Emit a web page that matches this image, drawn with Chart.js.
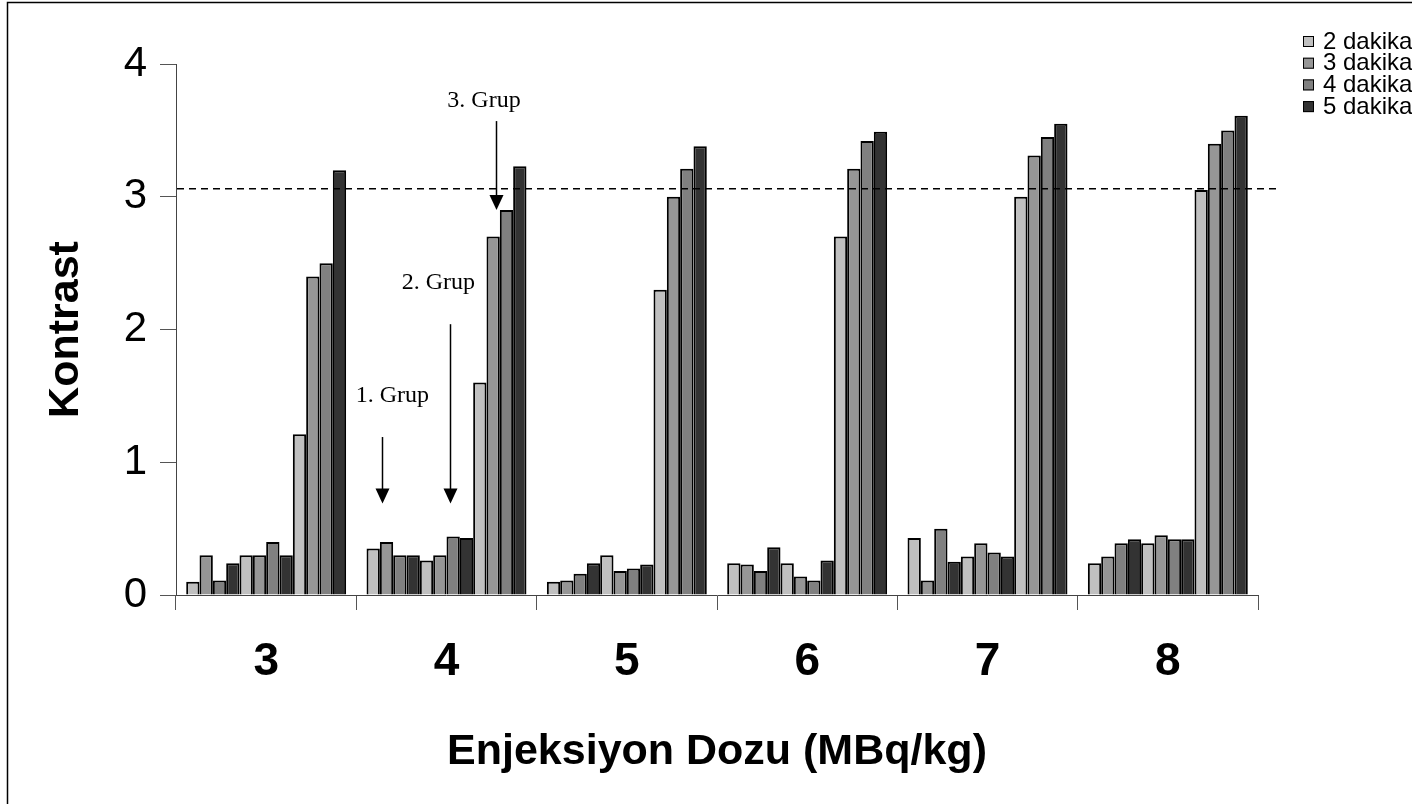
<!DOCTYPE html>
<html>
<head>
<meta charset="utf-8">
<title>Kontrast - Enjeksiyon Dozu</title>
<script src="https://cdn.jsdelivr.net/npm/chart.js@4.4.1/dist/chart.umd.min.js"></script>
<style>
  html, body { margin: 0; padding: 0; background: #ffffff; overflow: hidden; }
  canvas { display: block; }
</style>
</head>
<body>
<canvas id="c" width="1412" height="804"></canvas>
<script>
// Injection doses (MBq/kg) on the x axis
const doses = ['3', '4', '5', '6', '7', '8'];
// Acquisition times, one colour each
const seriesLabels = ['2 dakika', '3 dakika', '4 dakika', '5 dakika'];
const seriesColors = ['#c0c0c0', '#969696', '#808080', '#333333'];
const groupNames = ['1. Grup', '2. Grup', '3. Grup'];
const yTicks = [0, 1, 2, 3, 4];
const threshold = 3.06;

// Contrast values per group and time, one entry per dose
const g1_2dk = [0.10, 0.35, 0.10, 0.24, 0.43, 0.24];
const g1_3dk = [0.30, 0.40, 0.11, 0.23, 0.11, 0.29];
const g1_4dk = [0.11, 0.30, 0.16, 0.18, 0.50, 0.39];
const g1_5dk = [0.24, 0.30, 0.24, 0.36, 0.25, 0.42];

const g2_2dk = [0.30, 0.26, 0.30, 0.24, 0.29, 0.39];
const g2_3dk = [0.30, 0.30, 0.18, 0.14, 0.39, 0.45];
const g2_4dk = [0.40, 0.44, 0.20, 0.11, 0.32, 0.42];
const g2_5dk = [0.30, 0.43, 0.23, 0.26, 0.29, 0.42];

const g3_2dk = [1.21, 1.60, 2.30, 2.70, 3.00, 3.05];
const g3_3dk = [2.40, 2.70, 3.00, 3.21, 3.31, 3.40];
const g3_4dk = [2.50, 2.90, 3.21, 3.42, 3.45, 3.50];
const g3_5dk = [3.20, 3.23, 3.38, 3.49, 3.55, 3.61];

const groups = [
  [g1_2dk, g1_3dk, g1_4dk, g1_5dk],
  [g2_2dk, g2_3dk, g2_4dk, g2_5dk],
  [g3_2dk, g3_3dk, g3_4dk, g3_5dk]
];

// Twelve bar datasets per dose: three groups side by side, four times each
const datasets = [];
groups.forEach((grp, gi) => {
  grp.forEach((vals, si) => {
    datasets.push({
      label: seriesLabels[si],
      group: groupNames[gi],
      data: vals,
      backgroundColor: seriesColors[si],
      borderColor: '#000000',
      borderWidth: 2,
      borderSkipped: 'bottom',
      barPercentage: 1.0,
      categoryPercentage: 0.887
    });
  });
});

const SANS = "'Liberation Sans', Arial, Helvetica, sans-serif";
const SERIF = "'Liberation Serif', 'Times New Roman', serif";

// Frame, reference line, group arrows and the legend
const decorations = {
  id: 'decorations',
  afterDatasetsDraw(chart) {
    const ctx = chart.ctx;
    const x = chart.scales.x, y = chart.scales.y;
    const area = chart.chartArea;

    ctx.save();
    // dashed reference line
    const ty = y.getPixelForValue(threshold);
    ctx.strokeStyle = '#000';
    ctx.lineWidth = 1.5;
    ctx.setLineDash([7, 5]);
    ctx.beginPath();
    ctx.moveTo(area.left + 1, ty);
    ctx.lineTo(area.right + 20, ty);
    ctx.stroke();
    ctx.setLineDash([]);

    // group arrows above the dose of 4 MBq/kg
    const cx = x.getPixelForValue(1);
    const cw = x.getPixelForValue(2) - x.getPixelForValue(1);
    const notes = [
      { text: groupNames[0], tx: -0.30, ty: 1.50, ax: -0.36, from: 1.19, to: 0.69 },
      { text: groupNames[1], tx: -0.045, ty: 2.35, ax: 0.022, from: 2.04, to: 0.69 },
      { text: groupNames[2], tx: 0.208, ty: 3.72, ax: 0.275, from: 3.57, to: 2.90 }
    ];
    ctx.fillStyle = '#000';
    ctx.font = '24px ' + SERIF;
    ctx.textAlign = 'center';
    ctx.textBaseline = 'middle';
    notes.forEach(n => {
      ctx.fillText(n.text, cx + n.tx * cw, y.getPixelForValue(n.ty));
      const ax = Math.round(cx + n.ax * cw) + 0.5;
      const y0 = y.getPixelForValue(n.from);
      const y1 = y.getPixelForValue(n.to);
      ctx.lineWidth = 1.5;
      ctx.beginPath();
      ctx.moveTo(ax, y0);
      ctx.lineTo(ax, y1 - 12);
      ctx.stroke();
      ctx.beginPath();
      ctx.moveTo(ax - 7, y1 - 15);
      ctx.lineTo(ax + 7, y1 - 15);
      ctx.lineTo(ax, y1);
      ctx.closePath();
      ctx.fill();
    });

    // legend
    ctx.font = '24px ' + SANS;
    ctx.textAlign = 'left';
    ctx.textBaseline = 'middle';
    seriesLabels.forEach((lab, i) => {
      const ry = 41 + i * 21.7;
      ctx.fillStyle = seriesColors[i];
      ctx.fillRect(1303, ry - 5, 11, 11);
      ctx.strokeStyle = '#000';
      ctx.lineWidth = 1;
      ctx.strokeRect(1303.5, ry - 4.5, 10, 10);
      ctx.fillStyle = '#000';
      ctx.fillText(lab, 1323, ry + 1);
    });

    // outer frame
    ctx.strokeStyle = '#000';
    ctx.lineWidth = 1.5;
    ctx.beginPath();
    ctx.moveTo(7.5, 900);
    ctx.lineTo(7.5, 2.5);
    ctx.lineTo(1500, 2.5);
    ctx.stroke();
    ctx.restore();
  }
};

new Chart(document.getElementById('c'), {
  type: 'bar',
  data: { labels: doses, datasets: datasets },
  options: {
    responsive: false,
    animation: false,
    devicePixelRatio: 1,
    layout: { padding: { top: 64, right: 154, bottom: 0, left: 0 } },
    plugins: {
      legend: { display: false },
      tooltip: { enabled: false }
    },
    scales: {
      x: {
        afterFit(scale) { scale.height = 209; },
        grid: { drawOnChartArea: false, drawTicks: true, tickLength: 15, color: '#555', lineWidth: 1, offset: true },
        border: { display: true, color: '#444', width: 1 },
        ticks: { color: '#000', padding: 25, font: { family: SANS, size: 46, weight: 'bold' } },
        title: {
          display: true,
          text: 'Enjeksiyon Dozu (MBq/kg)',
          color: '#000',
          font: { family: SANS, size: 43, weight: 'bold' },
          padding: { top: 0, bottom: 26 }
        }
      },
      y: {
        min: 0,
        max: 4,
        afterFit(scale) { scale.width = 176; },
        afterBuildTicks(scale) { scale.ticks = yTicks.map(v => ({ value: v })); },
        grid: { drawOnChartArea: false, drawTicks: true, tickLength: 16, color: '#555', lineWidth: 1 },
        border: { display: true, color: '#444', width: 1 },
        ticks: { color: '#000', padding: 13, font: { family: SANS, size: 42 } },
        title: {
          display: true,
          text: 'Kontrast',
          color: '#000',
          font: { family: SANS, size: 43, weight: 'bold' },
          padding: { top: 40, bottom: 0 }
        }
      }
    }
  },
  plugins: [decorations]
});
</script>
</body>
</html>
